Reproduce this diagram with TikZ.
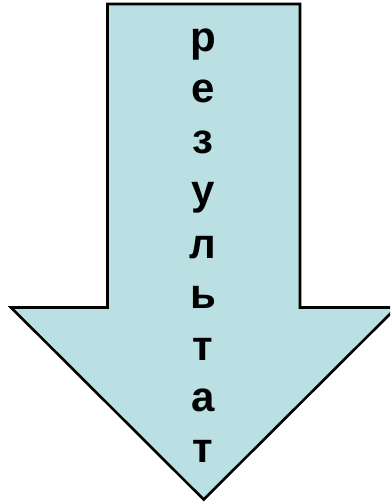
\documentclass[tikz,border=0pt]{standalone}
\usepackage{fontspec}
\setmainfont{Liberation Sans}
\definecolor{arrowfill}{RGB}{187,224,227}
\begin{document}
\begin{tikzpicture}[x=1pt,y=-1pt,
  arrowshape/.style={fill=arrowfill,draw=black,line width=2.6pt,line join=miter},
  letter/.style={anchor=base,inner sep=0pt,font=\fontsize{42}{50}\selectfont\bfseries}]
\useasboundingbox (0,0) rectangle (390,502);
\clip (0,0) rectangle (390,502);
\draw[arrowshape] (107.5,4) -- (300,4) -- (300,307.5) -- (396.5,307.5) -- (203.7,499.5) -- (11,307.5) -- (107.5,307.5) -- cycle;
\node[letter] (l1) at (203.2,52) {р};
\node[letter] (l2) at (203.2,103) {е};
\node[letter] (l3) at (203.2,154) {з};
\node[letter] (l4) at (203.2,205) {у};
\node[letter] (l5) at (203.2,258) {л};
\node[letter] (l6) at (203.2,308) {ь};
\node[letter] (l7) at (203.2,360) {т};
\node[letter] (l8) at (203.2,411) {а};
\node[letter] (l9) at (203.2,462) {т};
\end{tikzpicture}
\end{document}
